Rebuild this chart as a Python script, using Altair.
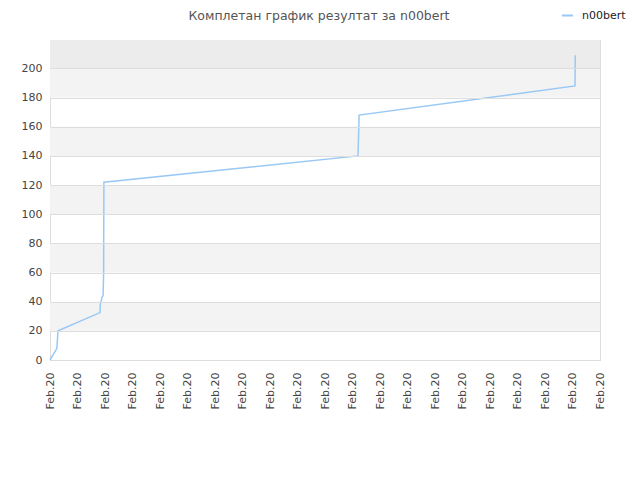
import altair as alt
import pandas as pd

# data
x_idx = [0, 0.25, 0.29, 1.82, 1.83, 1.89, 1.93, 1.95, 1.96, 11.2, 11.22, 11.24, 19.09, 19.1]
scores = [0, 8, 20, 32.5, 38, 43, 44, 60, 122, 140, 153, 168, 188, 209]
player = "n00bert"
band_lo = [20, 60, 100, 140, 180, 200]
band_hi = [40, 80, 120, 160, 200, 219.5]
band_col = ["#f3f3f3", "#f3f3f3", "#f3f3f3", "#f3f3f3", "#f3f3f3", "#ececec"]
tick_vals = list(range(21))
tick_label = "Feb.20"
y_ticks = [0, 20, 40, 60, 80, 100, 120, 140, 160, 180, 200]
title_text = "Комплетан график резултат за n00bert"

df = pd.DataFrame({"x": x_idx, "score": scores, "player": [player] * len(x_idx)})
bdf = pd.DataFrame({"lo": band_lo, "hi": band_hi, "c": band_col})
tdf = pd.DataFrame({"t": [title_text]})

FONT = "DejaVu Sans"
Y = alt.Scale(domain=[0, 219.5], nice=False, zero=True)
X = alt.Scale(domain=[0, 20], nice=False)

yaxis = alt.Axis(title=None, values=y_ticks, grid=True, gridColor="#dddddd", ticks=False,
                 domain=False, labelPadding=8, labelFontSize=11, labelColor="#444444",
                 labelFont=FONT, zindex=1)
xaxis = alt.Axis(title=None, values=tick_vals, labelExpr=f"'{tick_label}'", labelAngle=270,
                 grid=False, ticks=False, domain=True, domainColor="#d6d6d6",
                 labelPadding=12, labelFontSize=11, labelColor="#444444", labelFont=FONT,
                 labelAlign="right", labelBaseline="middle")

bands = alt.Chart(bdf).mark_rect().encode(
    x=alt.value(0), x2=alt.value(550),
    y=alt.Y("lo:Q", scale=Y, axis=yaxis),
    y2="hi:Q",
    fill=alt.Fill("c:N", scale=None, legend=None),
)

line = alt.Chart(df).mark_line(strokeWidth=1.5).encode(
    x=alt.X("x:Q", scale=X, axis=xaxis),
    y=alt.Y("score:Q", scale=Y, axis=yaxis),
    color=alt.Color("player:N", scale=alt.Scale(domain=[player], range=["#99c8f5"]),
                    legend=alt.Legend(title=None, orient="none", legendX=511, legendY=-31,
                                      symbolType="stroke", symbolSize=120, symbolStrokeWidth=2,
                                      labelOffset=8,
                                      labelFontSize=11, labelFont=FONT, labelColor="#222222")),
)

title = alt.Chart(tdf).mark_text(fontSize=12.5, font=FONT, color="#555555",
                                 align="center", baseline="alphabetic").encode(
    x=alt.value(269), y=alt.value(-20.5), text="t:N")

chart = alt.layer(bands, line, title).properties(
    width=550, height=320,
    autosize=alt.AutoSizeParams(type="none"),
    padding={"left": 42, "top": 32, "right": 32, "bottom": 100},
).configure_view(stroke="#dddddd", strokeWidth=1)

chart.save("out.html", embed_options={"renderer": "svg", "actions": False})
